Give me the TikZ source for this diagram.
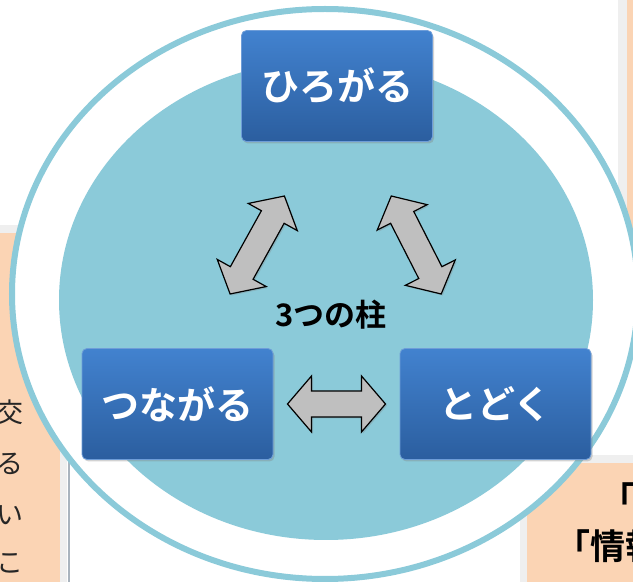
\documentclass[tikz,border=0pt]{standalone}
\usepackage{fontspec}
\usetikzlibrary{shadows,calc}
\newfontfamily\jpfont{Noto Sans CJK JP}
\newfontfamily\jpbold{Noto Sans CJK JP Bold}
\definecolor{ringblue}{HTML}{8BCAD9}
\definecolor{peach}{HTML}{FBD4B4}
\definecolor{framegray}{HTML}{EFEFEF}
\definecolor{linegray}{HTML}{AAB4BE}
\definecolor{boxtop}{HTML}{4282CF}
\definecolor{boxbot}{HTML}{2B5E9F}
\definecolor{boxedge}{HTML}{6E9DD8}
\tikzset{
  pillar/.style={rectangle, rounded corners=5pt, minimum width=191pt, minimum height=111pt,
    top color=boxtop, bottom color=boxbot, draw=boxedge, line width=0.8pt,
    text=white, font=\jpbold\fontsize{38}{38}\selectfont,
    drop shadow={shadow xshift=1.5pt, shadow yshift=-2pt, opacity=.35}},
  sidetext/.style={anchor=east, inner sep=0pt, text=black!85, font=\jpfont\fontsize{27}{27}\selectfont},
  boldtext/.style={anchor=west, inner sep=0pt, font=\jpbold\fontsize{35}{35}\selectfont},
  arrowbody/.style={fill=gray!50, draw=black, line width=1.2pt, line join=miter,
    drop shadow={shadow xshift=1.5pt, shadow yshift=-1.5pt, opacity=.3}},
  pics/dblarr/.style={code={
    \draw[arrowbody] (-#1,0) -- (-#1+24,28) -- (-#1+24,13) -- (#1-24,13) -- (#1-24,28) -- (#1,0)
      -- (#1-24,-28) -- (#1-24,-13) -- (-#1+24,-13) -- (-#1+24,-28) -- cycle;}}
}
\begin{document}
\begin{tikzpicture}[x=1pt,y=1pt]
\useasboundingbox (0,0) rectangle (633,582);
\clip (0,0) rectangle (633,582);
% boxes behind the circle
\fill[framegray] (-5,-5) rectangle (67,357);
\fill[peach] (-5,-5) rectangle (60,349);
\draw[linegray, line width=1.5pt] (69,-5) -- (69,300);
\fill[framegray] (618,300) rectangle (640,590);
\fill[peach] (627,300) rectangle (640,590);
\fill[framegray] (520,-5) rectangle (640,127);
\fill[peach] (527,-5) rectangle (640,119);
\node[sidetext] (l1) at (24,170) {交};
\node[sidetext] (l2) at (24,118) {る};
\node[sidetext] (l3) at (24,67) {い};
\node[sidetext] (l4) at (24,19) {こ};
\node[boldtext] (r1) at (600,84) {「};
\node[boldtext] (r2) at (555,36) {「情報};
% circle
\draw[ringblue, fill=white, line width=6pt] (325,288) ellipse [x radius=313pt, y radius=285pt];
\fill[ringblue] (326,282) ellipse [x radius=267pt, y radius=240pt];
\node[font=\jpbold\fontsize{31}{31}\selectfont] (title) at (331,267) {3つの柱};
\node[pillar] (hiro) at (337,496) {ひろがる};
\node[pillar] (tsuna) at (177.5,178) {つながる};
\node[pillar] (todo) at (495.5,178) {とどく};
\pic[rotate=61] at ($(tsuna)!0.5!(hiro)$) {dblarr=56};
\pic[rotate=-63] at ($(hiro)!0.5!(todo)$) {dblarr=55};
\pic at ($(tsuna)!0.5!(todo)$) {dblarr=49};
\end{tikzpicture}
\end{document}
